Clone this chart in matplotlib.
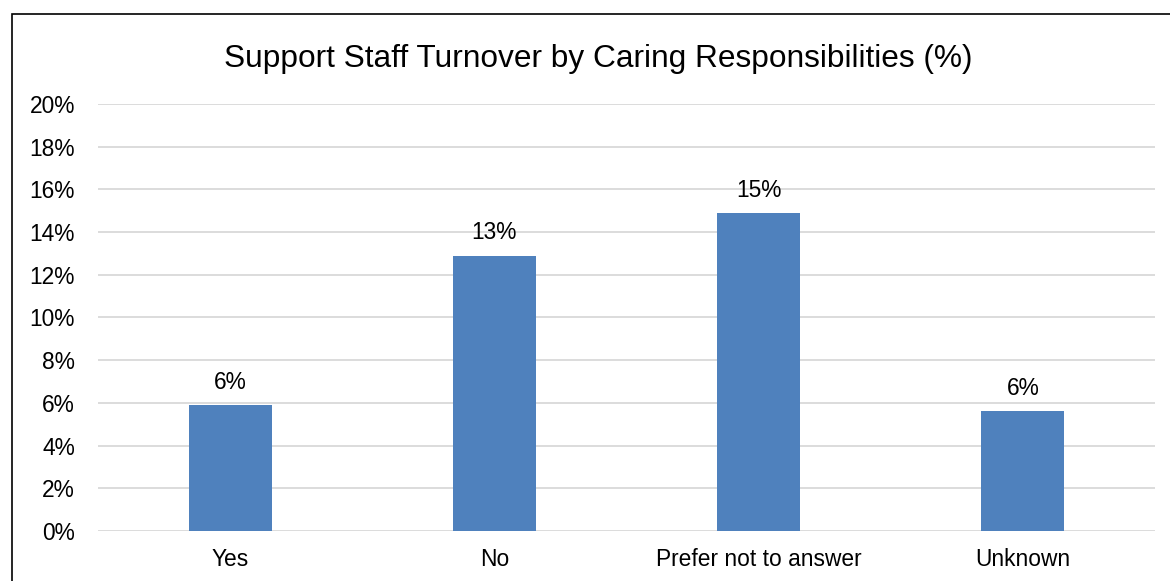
import matplotlib
matplotlib.use('Agg')
import matplotlib.pyplot as plt
from matplotlib.patches import Rectangle

# Data
categories = ['Yes', 'No', 'Prefer not to answer', 'Unknown']
turnover_pct = [5.9, 12.9, 14.9, 5.6]
y_ticks = list(range(0, 21, 2))

BAR_COLOR = '#4F81BD'
GRID_COLOR = '#D9D9D9'
TEXT_COLOR = '#000000'

plt.rcParams['font.family'] = ['Liberation Sans', 'DejaVu Sans']

W, H = 1170, 581
fig = plt.figure(figsize=(W / 100, H / 100), dpi=100)
fig.patch.set_facecolor('white')

# Chart border
fig.patches.append(Rectangle((12 / W, -0.05), 1.1, 1 - 14 / H + 0.05,
                             transform=fig.transFigure, fill=False,
                             edgecolor='black', linewidth=1.2))

ax = fig.add_axes([98 / W, 1 - 531 / H, (1155 - 98) / W, (531 - 104) / H])
x = range(len(categories))
bars = ax.bar(x, turnover_pct, width=0.314, color=BAR_COLOR, zorder=3)

for yt in y_ticks:
    ax.axhline(yt, color=GRID_COLOR, linewidth=1.3, zorder=1)

for i, v in enumerate(turnover_pct):
    ax.annotate(f'{v:.0f}%', (i, v), xytext=(0, 8), textcoords='offset points',
                ha='center', va='bottom', fontsize=16.4, color=TEXT_COLOR)

ax.set_xlim(-0.5, len(categories) - 0.5)
ax.set_ylim(0, 20)
ax.set_yticks(y_ticks)
ax.set_yticklabels([f'{t}%' for t in y_ticks], fontsize=16.4, color=TEXT_COLOR)
ax.set_xticks(list(x))
ax.set_xticklabels(categories, fontsize=16.4, color=TEXT_COLOR)
ax.tick_params(axis='y', length=0, pad=16.5)
ax.tick_params(axis='x', length=0, pad=12)

for spine in ax.spines.values():
    spine.set_visible(False)

fig.text(598.5 / W, 1 - 67 / H, 'Support Staff Turnover by Caring Responsibilities (%)',
         ha='center', va='baseline', fontsize=22.8, color=TEXT_COLOR)

fig.savefig('out.png', dpi=100, facecolor='white')
plt.close(fig)
